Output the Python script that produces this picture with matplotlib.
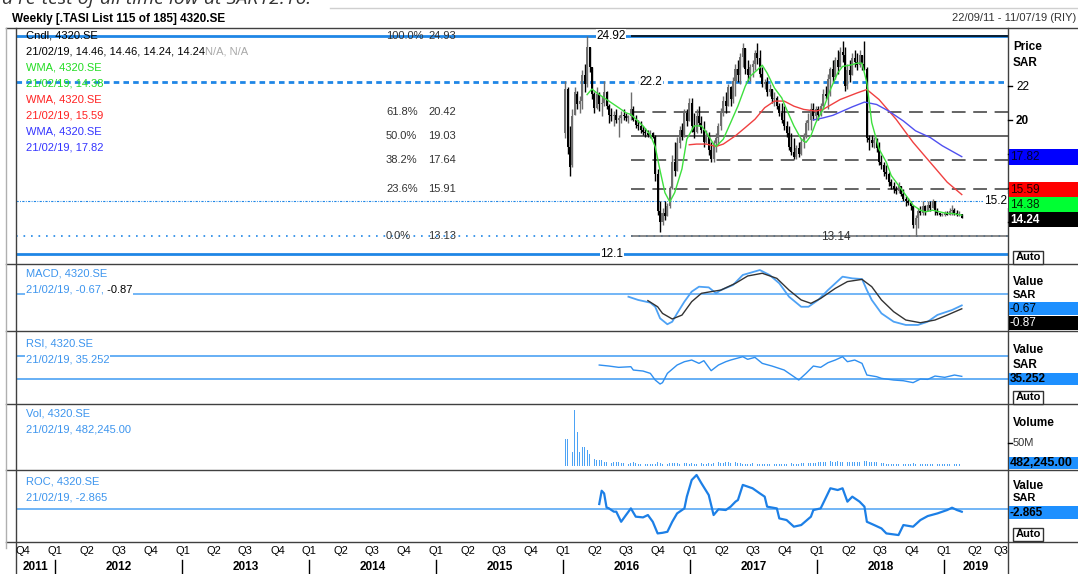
import matplotlib
matplotlib.use("Agg")
import matplotlib.pyplot as plt
import matplotlib.dates as mdates
from matplotlib.patches import Rectangle
import numpy as np
import pandas as pd

plt.rcParams['font.family'] = ['Liberation Sans', 'DejaVu Sans']

# ---------------- DATA (weekly candles, 4320.SE) ----------------
opens = [19.2, 21.8, 18.4, 17.3, 20.3, 21.5, 20.9, 21.1, 22.6, 22.1,
         24.3, 23.1, 21.5, 20.7, 21.5, 20.9, 21.0, 21.6, 20.8, 20.3,
         20.2, 20.3, 20.0, 20.1, 20.3, 20.2, 20.1, 20.2, 20.6, 20.0,
         19.7, 19.6, 19.4, 19.3, 19.2, 19.1, 19.2, 19.0, 16.8, 14.6,
         14.0, 14.5, 14.3, 14.9, 16.0, 17.5, 17.0, 18.6, 19.4, 19.0,
         20.4, 19.9, 21.0, 19.6, 19.3, 20.2, 19.8, 19.4, 18.7, 19.1,
         18.2, 17.7, 18.6, 18.9, 19.6, 20.5, 21.1, 20.8, 21.9, 21.2,
         22.3, 23.0, 22.6, 23.7, 24.2, 23.0, 22.6, 23.1, 23.3, 23.9,
         23.6, 22.7, 22.1, 22.2, 21.6, 21.8, 21.2, 21.3, 20.8, 20.4,
         20.0, 19.6, 19.2, 18.4, 18.1, 17.8, 18.3, 18.0, 18.7, 19.0,
         19.8, 20.0, 20.6, 20.2, 20.6, 20.3, 20.8, 21.5, 21.4, 22.4,
         23.0, 22.5, 23.5, 23.1, 24.0, 23.8, 22.0, 22.9, 22.6, 23.6,
         23.4, 23.2, 23.8, 23.3, 23.0, 18.9, 18.8, 18.6, 18.8, 18.3,
         17.5, 17.3, 16.9, 16.8, 16.3, 16.1, 15.9, 15.8, 16.1, 15.6,
         15.3, 15.2, 15.1, 14.9, 13.8, 14.2, 14.6, 14.5, 14.9, 14.6,
         15.0, 14.8, 15.2, 14.6, 14.5, 14.4, 14.4, 14.5, 14.4, 14.6,
         14.7, 14.5, 14.4, 14.46]
highs = [22.3, 21.9, 19.6, 20.6, 21.9, 21.7, 21.4, 22.9, 23.3, 24.92,
         24.3, 23.1, 21.6, 21.9, 21.6, 21.4, 22.3, 21.7, 20.9, 20.7,
         20.5, 20.6, 20.3, 20.5, 20.6, 20.4, 20.3, 21.6, 20.8, 20.3,
         20.0, 19.9, 19.6, 19.5, 19.4, 19.4, 19.3, 19.1, 17.1, 15.2,
         14.8, 15.2, 15.1, 16.1, 17.9, 18.7, 19.0, 19.6, 19.8, 20.6,
         20.6, 21.3, 21.3, 20.4, 20.6, 20.8, 20.2, 19.9, 19.4, 19.3,
         18.7, 18.8, 19.2, 19.8, 20.7, 21.4, 21.6, 22.1, 22.0, 22.5,
         23.3, 23.5, 23.9, 24.5, 24.2, 23.5, 23.3, 23.5, 24.1, 24.5,
         24.1, 23.1, 22.4, 22.5, 22.1, 21.8, 21.6, 21.4, 21.0, 21.0,
         20.8, 19.9, 19.6, 19.2, 18.9, 18.5, 18.7, 18.9, 19.2, 20.0,
         20.4, 21.0, 21.0, 20.8, 20.8, 21.0, 21.8, 22.0, 22.7, 23.1,
         23.5, 23.7, 24.1, 24.3, 24.6, 24.3, 23.3, 23.5, 23.9, 24.1,
         23.9, 24.1, 23.8, 24.6, 23.1, 19.1, 19.1, 19.0, 18.9, 18.7,
         17.9, 17.5, 17.3, 16.9, 16.5, 16.3, 16.1, 16.3, 16.1, 15.9,
         15.5, 15.4, 15.2, 14.9, 14.4, 14.8, 14.9, 15.2, 15.0, 15.2,
         15.2, 15.35, 15.2, 14.8, 14.5, 14.5, 14.6, 14.6, 14.8, 15.0,
         14.8, 14.7, 14.6, 14.46]
lows = [18.9, 18.0, 16.7, 17.2, 20.3, 20.6, 20.4, 20.6, 21.6, 21.9,
        22.8, 21.2, 20.4, 20.6, 20.5, 20.2, 20.8, 20.6, 19.8, 19.9,
        19.6, 19.8, 19.0, 19.8, 20.0, 19.9, 19.8, 20.0, 19.9, 19.5,
        19.4, 19.2, 19.1, 19.0, 19.0, 18.9, 18.9, 16.4, 14.4, 13.4,
        13.8, 14.1, 14.3, 14.8, 15.9, 16.7, 17.0, 18.3, 18.8, 19.0,
        19.6, 19.9, 19.3, 18.9, 19.2, 19.6, 19.2, 18.4, 18.6, 17.9,
        17.5, 17.5, 18.1, 18.5, 19.4, 20.2, 20.4, 20.8, 20.8, 21.0,
        21.4, 22.2, 22.1, 23.1, 22.7, 22.3, 22.3, 22.5, 22.9, 23.3,
        22.5, 21.9, 21.8, 21.4, 21.4, 21.0, 20.8, 20.6, 20.2, 19.8,
        19.4, 19.0, 18.2, 17.9, 17.7, 17.7, 17.8, 17.9, 18.3, 18.9,
        19.4, 19.4, 20.0, 20.0, 20.0, 20.2, 20.6, 21.2, 20.6, 21.4,
        22.2, 22.4, 22.7, 23.1, 23.4, 21.7, 21.8, 22.2, 22.6, 23.1,
        22.9, 23.1, 22.9, 22.9, 18.7, 18.2, 18.4, 18.3, 18.1, 17.3,
        17.1, 16.7, 16.5, 16.1, 15.9, 15.7, 15.6, 15.7, 15.5, 15.2,
        14.9, 15.0, 14.7, 13.6, 13.14, 13.6, 14.4, 14.4, 14.4, 14.6,
        14.6, 14.8, 14.4, 14.4, 14.3, 14.3, 14.3, 14.4, 14.4, 14.4,
        14.4, 14.3, 14.3, 14.24]
closes = [21.8, 18.4, 17.2, 20.2, 21.6, 20.9, 21.1, 22.6, 22.1, 24.3,
          23.1, 21.5, 20.7, 21.5, 20.9, 21.0, 21.6, 20.8, 20.3, 20.2,
          20.3, 20.0, 20.1, 20.3, 20.2, 20.1, 20.2, 20.6, 20.0, 19.7,
          19.6, 19.4, 19.3, 19.2, 19.1, 19.2, 19.0, 16.8, 14.6, 14.0,
          14.5, 14.3, 14.9, 16.0, 17.5, 17.0, 18.6, 19.4, 19.0, 20.4,
          19.9, 21.0, 19.6, 19.3, 20.2, 19.8, 19.4, 18.7, 19.1, 18.2,
          17.7, 18.6, 18.9, 19.6, 20.5, 21.1, 20.8, 21.9, 21.2, 22.3,
          23.0, 22.6, 23.7, 24.2, 23.0, 22.6, 23.1, 23.3, 23.9, 23.6,
          22.7, 22.1, 22.2, 21.6, 21.8, 21.2, 21.3, 20.8, 20.4, 20.0,
          19.6, 19.2, 18.4, 18.1, 17.8, 18.3, 18.0, 18.7, 19.0, 19.8,
          20.0, 20.6, 20.2, 20.6, 20.3, 20.8, 21.5, 21.4, 22.4, 23.0,
          22.5, 23.5, 23.1, 24.0, 23.8, 22.0, 22.9, 22.6, 23.6, 23.4,
          23.2, 23.8, 23.3, 23.0, 18.9, 18.8, 18.6, 18.8, 18.3, 17.5,
          17.3, 16.9, 16.8, 16.3, 16.1, 15.9, 15.8, 16.1, 15.6, 15.3,
          15.2, 15.1, 14.9, 13.8, 14.2, 14.6, 14.5, 14.9, 14.6, 15.0,
          14.8, 15.2, 14.6, 14.5, 14.4, 14.4, 14.5, 14.4, 14.6, 14.7,
          14.5, 14.4, 14.46, 14.24]
# weekly volume, millions of shares
volume_m = [57, 57, 28, 29, 120, 72, 31, 40, 41, 34, 26, 20, 16, 13, 12, 12, 9, 8, 7, 6,
            9, 8, 8, 7, 6, 6, 5, 6, 8, 6, 5, 5, 4, 4, 4, 4, 5, 4, 8, 7,
            5, 5, 5, 6, 6, 6, 6, 5, 6, 6, 6, 5, 6, 5, 5, 6, 6, 5, 5, 6,
            5, 6, 6, 8, 6, 6, 8, 8, 6, 8, 8, 6, 6, 5, 4, 5, 5, 6, 5, 5,
            5, 5, 4, 4, 4, 5, 5, 5, 5, 5, 5, 5, 6, 6, 5, 5, 5, 6, 6, 6,
            6, 6, 6, 6, 8, 8, 8, 9, 9, 11, 9, 9, 11, 8, 8, 9, 9, 9, 8, 8,
            8, 9, 11, 11, 11, 9, 9, 8, 8, 6, 6, 6, 5, 5, 5, 5, 5, 4, 5, 5,
            5, 5, 5, 6, 5, 5, 5, 5, 5, 5, 5, 5, 5, 4, 4, 4, 4, 4, 4, 4,
            4, 4, 4, 0.482245]

# WMA lines (week index, value)
wma_g_wk = [9, 11, 13, 16, 19, 22, 25, 27, 32, 35, 37, 39, 41, 43, 45, 48, 50, 53, 56, 58,
            61, 62, 65, 68, 71, 74, 76, 79, 81, 83, 86, 89, 91, 94, 97, 99, 101, 103, 106, 109,
            112, 114, 117, 120, 122, 124, 126, 129, 132, 134, 137, 140, 143, 146, 148, 151, 154,
            157, 159, 163]
wma_g = [21.47, 21.8, 21.57, 21.28, 20.99, 20.7, 20.4, 20.3, 19.63, 19.1, 18.4, 17.0, 15.7,
         15.16, 15.7, 17.1, 18.85, 19.63, 19.63, 19.24, 18.56, 18.42, 18.85, 19.82, 20.8, 21.96,
         22.54, 22.93, 23.2, 22.74, 21.86, 21.28, 20.6, 19.63, 18.85, 18.66, 19.05, 19.82, 20.6,
         21.77, 22.74, 23.13, 23.2, 23.32, 23.32, 22.16, 19.82, 18.27, 17.49, 16.71, 16.13,
         15.55, 14.96, 14.67, 14.57, 14.67, 14.57, 14.48, 14.48, 14.38]
wma_r_wk = [51, 54, 58, 62, 65, 70, 74, 78, 82, 86, 90, 94, 98, 103, 106, 113, 120, 124,
            129, 136, 143, 150, 157, 163]
wma_r = [18.52, 18.56, 18.56, 18.42, 18.56, 19.05, 19.53, 20.02, 20.7, 21.09, 21.09, 20.79,
         20.6, 20.5, 20.6, 21.18, 21.57, 21.77, 21.18, 20.02, 18.66, 17.49, 16.32, 15.59]
wma_b_wk = [102, 106, 110, 114, 118, 123, 128, 133, 139, 144, 150, 155, 163]
wma_b = [19.98, 20.1, 20.25, 20.5, 20.75, 21.03, 20.89, 20.5, 19.92, 19.34, 18.95, 18.46, 17.82]

# MACD (week index, value)
macd_wk = [26, 30, 35, 37, 39, 42, 44, 46, 49, 52, 55, 59, 62, 64, 69, 73, 80, 84, 88, 92,
           97, 100, 104, 108, 114, 118, 122, 124, 126, 130, 135, 140, 145, 149, 153, 159, 163]
macd = [-0.16, -0.35, -0.51, -0.75, -1.43, -1.78, -1.63, -1.14, -0.45, 0.14, 0.43, 0.39, 0.04,
        0.23, 0.53, 1.12, 1.41, 1.12, 0.63, -0.16, -0.75, -0.75, -0.35, 0.23, 1.02, 0.92, 0.88,
        0.23, -0.35, -1.14, -1.63, -1.82, -1.82, -1.63, -1.23, -0.94, -0.67]
signal_wk = [34, 38, 40, 44, 48, 52, 56, 60, 64, 70, 75, 81, 87, 92, 97, 101, 105, 111, 116,
             122, 126, 130, 135, 140, 146, 152, 157, 163]
signal = [-0.39, -0.75, -1.14, -1.47, -1.24, -0.45, 0.04, 0.14, 0.23, 0.63, 1.06, 1.22, 0.92,
          0.23, -0.35, -0.55, -0.26, 0.33, 0.73, 0.86, 0.43, -0.35, -1.04, -1.53, -1.69, -1.53,
          -1.24, -0.87]

# RSI (week index, value)
rsi_wk = [14, 18, 22, 27, 28, 32, 35, 37, 39, 40, 42, 46, 49, 52, 55, 57, 60, 63, 66, 68,
          73, 75, 78, 81, 85, 90, 94, 96, 99, 102, 105, 108, 111, 114, 116, 119, 122, 124, 128,
          130, 135, 139, 143, 146, 149, 152, 156, 160, 163]
rsi = [54.3, 52.6, 50.4, 51.5, 45.9, 44.2, 40.3, 29.1, 22.4, 24.7, 40.3, 54.3, 59.9, 62.7,
       57.1, 61.6, 44.8, 54.3, 59.9, 62.7, 68.3, 63.9, 67.2, 57.1, 52.6, 45.9, 34.7, 29.1, 40.3,
       52.6, 50.4, 58.2, 62.7, 68.3, 59.9, 62.7, 57.1, 37.5, 34.7, 31.9, 29.1, 27.9, 24.7, 30.8,
       30.2, 35.8, 33.6, 37.5, 35.252]

# ROC (week index, value)
roc_wk = [14, 15, 16, 17, 18, 20, 21, 23, 25, 27, 29, 32, 34, 36, 38, 40, 42, 44, 46, 49,
          50, 52, 54, 56, 59, 61, 63, 66, 68, 70, 71, 73, 77, 80, 82, 83, 87, 88, 91, 94,
          97, 101, 102, 105, 107, 109, 112, 114, 116, 118, 121, 123, 124, 127, 130, 132, 137,
          139, 143, 146, 149, 153, 157, 159, 161, 163]
roc = [4.7, 17.7, 15.1, 1.4, 0.4, -2.8, -2.8, -12.7, -6.1, 0.4, -7.7, -8.4, -6.1, -12.7, -24.1,
       -23.5, -22.5, -12.7, -4.5, 0.4, 11.9, 28.2, 33.1, 25.0, 13.5, -6.1, -0.5, -1.2, 2.1, 7.0,
       8.6, 23.4, 20.1, 15.1, 11.9, 2.1, 0.4, -9.4, -11.0, -17.5, -15.9, -7.7, -1.2, 0.4, 10.2,
       20.1, 18.4, 20.1, 7.0, 11.9, 7.0, 2.1, -12.7, -15.9, -19.2, -24.1, -25.7, -15.9, -17.5,
       -11.0, -7.1, -4.5, -1.2, 1.1, -1.2, -2.865]

fib_pcts = ["100.0%", "61.8%", "50.0%", "38.2%", "23.6%", "0.0%"]
fib_vals = [24.93, 20.42, 19.03, 17.64, 15.91, 13.13]
hlines_blue = {"top": 24.92, "dash": 22.2, "dot": 15.2, "low": 13.14, "floor": 12.1}
price_ticks = [22, 20]
hidden_ticks = [18, 16, 14]

# ---------------- FIGURE ----------------
W, H = 1078, 574
fig = plt.figure(figsize=(W / 100, H / 100), dpi=100)
fig.patch.set_facecolor("white")

PL, PR = 16, 1008
XL = mdates.date2num(pd.Timestamp("2011-09-10"))
XR = mdates.date2num(pd.Timestamp("2019-07-04"))
dates = pd.date_range(end="2019-02-21", periods=len(closes), freq="7D")
d = mdates.date2num(dates)


def px_axes(t, b):
    ax = fig.add_axes([PL / W, 1 - b / H, (PR - PL) / W, (b - t) / H])
    ax.set_xlim(XL, XR)
    ax.axis("off")
    return ax


axp = px_axes(28, 264)
axm = px_axes(264, 331)
axs = px_axes(331, 404)
axv = px_axes(404, 470)
axr = px_axes(470, 542)

axp.set_ylim(11.505, 25.389)
axm.set_ylim(-2.176, 1.765)
axs.set_ylim(-11.2, 111.5)
axv.set_ylim(-8.6, 133)
axr.set_ylim(-32.5, 38.0)

ov = fig.add_axes([0, 0, 1, 1], zorder=10)
ov.set_xlim(0, W)
ov.set_ylim(H, 0)
ov.axis("off")
ov.patch.set_alpha(0)
renderer = fig.canvas.get_renderer()


def xpx(dn):
    return axp.transData.transform((dn, 0))[0]


def ypx(ax, v):
    return H - ax.transData.transform((XL, v))[1]


FS = 8
BL = "#1f86e6"
IND = "#3d95ee"


def T(x, y, s, color="black", size=FS, weight="normal", ha="left", va="center", bg=None, z=5, **kw):
    if bg is not None:
        kw["bbox"] = dict(facecolor=bg, edgecolor="none", pad=0.5)
    return ov.text(x, y, s, color=color, fontsize=size, fontweight=weight, ha=ha, va=va,
                   zorder=z, **kw)


def runs(x, y, parts, bg=None):
    for s, c in parts:
        t = T(x, y, s, color=c, bg=bg)
        x += t.get_window_extent(renderer).width


# ---------- price panel ----------
fib_start = d[27]
axp.axhline(hlines_blue["top"], color=BL, lw=2, zorder=1)
axp.axhline(hlines_blue["dash"], color=BL, lw=2, ls=(0, (2, 1.5)), zorder=1)
axp.axhline(hlines_blue["dot"], color=BL, lw=0.8, ls=(0, (2, 1.2, 0.8, 1.2)), zorder=1)
axp.axhline(hlines_blue["low"], color=BL, lw=1.2, ls=(0, (1, 3.5)), zorder=1)
axp.axhline(hlines_blue["floor"], color=BL, lw=2, zorder=1)
fib_styles = ["-", (0, (9, 5)), "-", (0, (9, 5)), (0, (9, 5)), "-"]
fib_colors = ["black", "#3a3a3a", "#3a3a3a", "#3a3a3a", "#3a3a3a", "#6a6a6a"]
for v, st, c in zip(fib_vals, fib_styles, fib_colors):
    axp.hlines(v, fib_start, XR, colors=c, lw=1.1, linestyles=[st], zorder=2)

O = np.array(opens); Hh = np.array(highs); Lo = np.array(lows); C = np.array(closes)
up = C >= O
cols = np.where(up, "#6e6e6e", "black")
axp.vlines(d, Lo, Hh, colors=cols, lw=1.0, zorder=4)
axp.bar(d, np.maximum(np.abs(C - O), 0.05), bottom=np.minimum(O, C), width=5.8,
        color=cols, zorder=4, linewidth=0)

axp.plot(d[wma_r_wk], wma_r, color="#f04040", lw=1.0, zorder=5)
axp.plot(d[wma_b_wk], wma_b, color="#5050f0", lw=1.0, zorder=5)
axp.plot(d[wma_g_wk], wma_g, color="#3ee03e", lw=1.0, zorder=6)

# line labels (pixel placement)
T(611, ypx(axp, hlines_blue["top"]), f"{hlines_blue['top']:.2f}", ha="center", bg="white", size=8.5)
T(651, ypx(axp, hlines_blue["dash"]), f"{hlines_blue['dash']:.1f}", ha="center", bg="white", size=8.5)
T(612, ypx(axp, hlines_blue["floor"]), f"{hlines_blue['floor']:.1f}", ha="center", bg="white", size=8.5)
T(1007, ypx(axp, hlines_blue["dot"]), f"{hlines_blue['dot']:.1f}", ha="right", bg="white", size=8.5)
T(836, ypx(axp, hlines_blue["low"]) + 1, f"{hlines_blue['low']:.2f}", ha="center", size=8.5,
  color="#333333")
for p, v in zip(fib_pcts, fib_vals):
    T(386, ypx(axp, v), p, color="#333333")
    T(428, ypx(axp, v), f"{v:.2f}", color="#333333")

# legend
T(26, 36, "Cndl, 4320.SE")
runs(26, 52, [("21/02/19, %.2f, %.2f, %.2f, %.2f" % (opens[-1], highs[-1], lows[-1], closes[-1]), "black"),
              ("N/A, N/A", "#a8a8a8")])
G, R, B = "#22dd22", "#ff2222", "#3434ff"
T(26, 68, "WMA, 4320.SE", color=G)
T(26, 84, f"21/02/19, {wma_g[-1]:.2f}", color=G)
T(26, 100, "WMA, 4320.SE", color=R)
T(26, 116, f"21/02/19, {wma_r[-1]:.2f}", color=R)
T(26, 131, "WMA, 4320.SE", color=B)
T(26, 147, f"21/02/19, {wma_b[-1]:.2f}", color=B)

# ---------- MACD ----------
axm.axhline(0, color="#5aa9f5", lw=1.2, zorder=1)
axm.plot(d[signal_wk], signal, color="#333333", lw=1.0, zorder=3)
axm.plot(d[macd_wk], macd, color="#4ea2f5", lw=1.3, zorder=2)
T(26, 274, "MACD, 4320.SE", color=IND)
runs(26, 290, [(f"21/02/19, {macd[-1]:.2f},", IND), (f" {signal[-1]:.2f}", "black")], bg="white")

# ---------- RSI ----------
axs.axhline(70, color="#5aa9f5", lw=1.3, zorder=1)
axs.axhline(30, color="#5aa9f5", lw=1.3, zorder=1)
axs.plot(d[rsi_wk], rsi, color="#2f8ff0", lw=1.0, zorder=2)
T(26, 343, "RSI, 4320.SE", color=IND)
T(26, 359, f"21/02/19, {rsi[-1]:.3f}", color=IND, bg="white")

# ---------- Volume ----------
axv.bar(d, volume_m, width=2.5, color="#4da3f5", linewidth=0, zorder=2)
T(26, 414, "Vol, 4320.SE", color=IND)
T(26, 430, f"21/02/19, {volume_m[-1] * 1e6:,.2f}", color=IND)

# ---------- ROC ----------
axr.axhline(0, color="#5aa9f5", lw=1.2, zorder=1)
axr.plot(d[roc_wk], roc, color="#1c7fe6", lw=1.6, zorder=2)
T(26, 481, "ROC, 4320.SE", color=IND)
T(26, 497, f"21/02/19, {roc[-1]:.3f}", color=IND)

# ---------- frames ----------
FR = "#404040"
for y in (28, 264, 331, 404, 470, 542):
    ov.plot([6, W], [y, y], color=FR, lw=1.0, zorder=3)
ov.plot([PL, PL], [28, 574], color=FR, lw=1.0, zorder=3)
ov.plot([PR, PR], [28, 574], color=FR, lw=1.0, zorder=3)
ov.plot([6, 6], [28, 548], color="#b0b0b0", lw=1.0, zorder=3)
ov.plot([330, W], [7.5, 7.5], color="#cfcfcf", lw=1.0, zorder=1)

# header
T(12, 19, "Weekly [.TASI List 115 of 185] 4320.SE", weight="bold", size=8.5)
T(1076, 18, "22/09/11 - 11/07/19 (RIY)", ha="right", color="#333333")
T(2, -1, "a re-test of all time low at SAR12.16.", size=14, style="italic", color="#333333",
  family="Open Sans")

# ---------- right column ----------
RX = 1013
T(RX, 47, "Price", weight="bold", size=8.5)
T(RX, 63, "SAR", weight="bold", size=8.5)
for v in price_ticks:
    y = ypx(axp, v)
    ov.plot([PR, PR + 4], [y, y], color="black", lw=1, zorder=4)
    T(1016, y + 1.5, f"{v}", weight="bold" if v == 20 else "normal", size=8.5, z=4)
for v in hidden_ticks:
    y = ypx(axp, v)
    ov.plot([PR, PR + 4], [y, y], color="black", lw=1, zorder=4)


def vbox(y0, y1, txt, fc, tc="black", bold=False, size=8.5):
    ov.add_patch(Rectangle((PR + 1, y0), W - PR - 1, y1 - y0, facecolor=fc, edgecolor="none", zorder=6))
    T(PR + 2, (y0 + y1) / 2 + 0.5, txt, color=tc, weight="bold" if bold else "normal", size=size, z=7)


def auto(y):
    ov.add_patch(Rectangle((1013, y - 6.5), 30, 13, facecolor="white", edgecolor="#333333", lw=1, zorder=6))
    T(1028, y, "Auto", ha="center", weight="bold", size=8, z=7)


vbox(149, 165, f"{wma_b[-1]:.2f}", "#0000ff", tc="#000030")
vbox(182, 197, f"{wma_r[-1]:.2f}", "#ff0000", tc="#200000")
vbox(197, 212, f"{wma_g[-1]:.2f}", "#00ff33", tc="#002000")
vbox(212, 227, f"{closes[-1]:.2f}", "black", tc="white", bold=True)
auto(257)

T(RX, 282, "Value", weight="bold", size=8.5)
T(RX, 295, "SAR", weight="bold", size=8, z=4)
vbox(302, 315, f"{macd[-1]:.2f}", "#1e90ff", bold=False)
vbox(316, 330, f"{signal[-1]:.2f}", "black", tc="white")

T(RX, 350, "Value", weight="bold", size=8.5)
T(RX, 365, "SAR", weight="bold", size=8.5)
vbox(373, 385, f"{rsi[-1]:.3f}", "#1e90ff", bold=True)
auto(397)

T(RX, 423, "Volume", weight="bold", size=8.5)
y50 = ypx(axv, 50)
ov.plot([PR, PR + 4], [y50, y50], color="black", lw=1, zorder=4)
T(1013, y50, "50M", size=8, color="#333333")
vbox(457, 469, f"{volume_m[-1] * 1e6:,.2f}", "#1e90ff", bold=True, size=9)

T(RX, 486, "Value", weight="bold", size=8.5)
T(RX, 498, "SAR", weight="bold", size=8, z=4)
vbox(506, 519, f"{roc[-1]:.3f}", "#1e90ff", bold=True)
auto(534)

# ---------- time axis ----------
quarters = pd.date_range("2011-10-01", "2019-07-01", freq="QS")
for q in quarters:
    x = xpx(mdates.date2num(q))
    if x > PR - 8:
        T(PR, 551, f"Q{q.quarter}", ha="right", size=8)
    else:
        T(x, 551, f"Q{q.quarter}", ha="center", size=8)
for yr in range(2011, 2020):
    a = max(xpx(mdates.date2num(pd.Timestamp(f"{yr}-01-01"))), PL)
    b = min(xpx(mdates.date2num(pd.Timestamp(f"{yr + 1}-01-01"))), PR)
    T((a + b) / 2, 567, str(yr), ha="center", weight="bold", size=8.5)
    if yr > 2011:
        xs = xpx(mdates.date2num(pd.Timestamp(f"{yr}-01-01")))
        ov.plot([xs, xs], [560, 574], color="black", lw=1, zorder=4)

fig.savefig("out.png", dpi=100, facecolor="white")
